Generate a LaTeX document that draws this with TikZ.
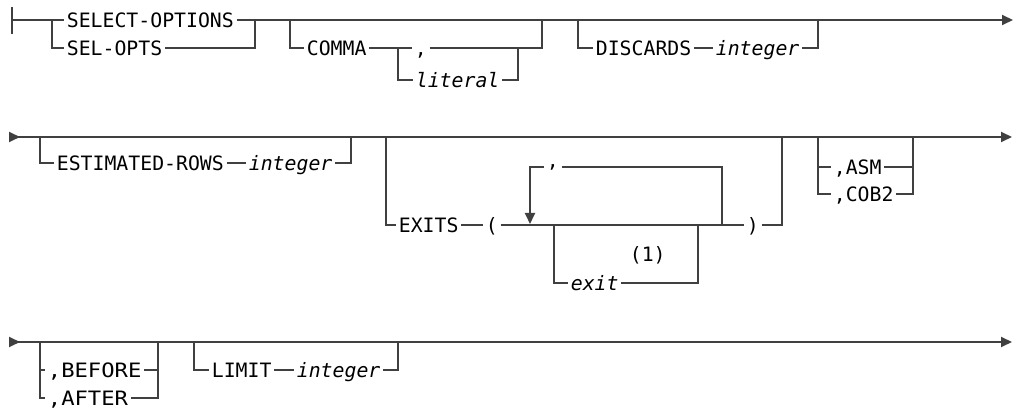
\documentclass[tikz,border=0pt]{standalone}
\usepackage{fontspec}
\setmonofont{DejaVu Sans Mono}
\newfontfamily\widemono[FakeStretch=1.12]{DejaVu Sans Mono}
\usetikzlibrary{arrows.meta}
\definecolor{rrLine}{RGB}{64,64,64}
\newcommand\rrfont{\ttfamily\fontsize{19.8}{24}\selectfont}

\begin{document}
\begin{tikzpicture}[x=1pt, y=-1pt, >={Triangle[length=11pt,width=10pt]},
  every path/.style={draw=rrLine, line width=1.8pt},
  kw/.style={anchor=west, inner xsep=2pt, inner ysep=0pt, text height=14.4pt, text depth=0pt, font=\rrfont},
  var/.style={kw, font=\rrfont\itshape},
  wide/.style={kw, font=\widemono\fontsize{19.8}{24}\selectfont}]
  \useasboundingbox[draw=none] (0,0) rectangle (1015,411);

  % row 1
  \coordinate (r1s) at (12,20);
  \coordinate (r1e) at (1013,20);
  \coordinate (a1) at (52,20);
  \coordinate (a2) at (255,20);
  \coordinate (b1) at (290,20);
  \coordinate (b2) at (542,20);
  \coordinate (c1) at (398,48);
  \coordinate (c2) at (518,48);
  \coordinate (d1) at (578,20);
  \coordinate (d2) at (818,20);
  \node[kw] (selopt) at (64,20) {SELECT-OPTIONS};
  \node[kw] (selopts) at (64,48) {SEL-OPTS};
  \node[kw] (comma) at (304,48) {COMMA};
  \node[kw] (sep) at (412,48) {,};
  \node[var] (lit) at (413,80) {literal};
  \node[kw] (disc) at (593,48) {DISCARDS};
  \node[var] (int1) at (713,48) {integer};
  \draw (12,7) -- (12,34);
  \draw (r1s) -- (selopt.west);
  \draw (selopt.east) -- (a2);
  \draw (a1) |- (selopts.west);
  \draw (selopts.east) -| (a2);
  \draw[->] (a2) -- (r1e);
  \draw (b1) |- (comma.west);
  \draw (comma.east) -- (sep.west);
  \draw (sep.east) -| (b2);
  \draw (c1) |- (lit.west);
  \draw (lit.east) -| (c2);
  \draw (d1) |- (disc.west);
  \draw (disc.east) -- (int1.west);
  \draw (int1.east) -| (d2);

  % row 2
  \coordinate (r2s) at (9,137);
  \coordinate (r2e) at (1012,137);
  \coordinate (e1) at (40,137);
  \coordinate (e2) at (351,137);
  \coordinate (x1) at (386,137);
  \coordinate (x2) at (782,137);
  \coordinate (i1) at (554,225);
  \coordinate (i2) at (698,225);
  \coordinate (ll) at (530,224);
  \coordinate (rl) at (722,225);
  \coordinate (s1) at (818,137);
  \coordinate (s2) at (913,137);
  \node[kw] (est) at (54,163) {ESTIMATED-ROWS};
  \node[var] (int2) at (246,163) {integer};
  \node[kw] (exits) at (396,225) {EXITS};
  \node[kw] (lp) at (483,225) {(};
  \node[kw, text height=1pt] (lc) at (544,167) {,};
  \node[var] (ex) at (568,283) {exit};
  \node[kw] (fn) at (627,254) {(1)};
  \node[kw] (rp) at (744,225) {)};
  \node[kw] (asm) at (831,167) {,ASM};
  \node[kw] (cob) at (831,194) {,COB2};
  \draw[{Triangle[reversed,length=11pt,width=10pt]}->] (r2s) -- (r2e);
  \draw (e1) |- (est.west);
  \draw (est.east) -- (int2.west);
  \draw (int2.east) -| (e2);
  \draw (x1) |- (exits.west);
  \draw (exits.east) -- (lp.west);
  \draw (lp.east) -- (rp.west);
  \draw (rp.east) -| (x2);
  \draw[->] (lc.west) -| (ll);
  \draw (lc.east) -| (rl);
  \draw (i1) |- (ex.west);
  \draw (ex.east) -| (i2);
  \draw (s1) |- (asm.west);
  \draw (s1) |- (cob.west);
  \draw (asm.east) -| (s2);
  \draw (cob.east) -| (s2);

  % row 3
  \coordinate (r3s) at (9,342);
  \coordinate (r3e) at (1012,342);
  \coordinate (f1) at (40,342);
  \coordinate (f2) at (158,342);
  \coordinate (g1) at (194,342);
  \coordinate (g2) at (398,342);
  \node[wide] (bef) at (45,370) {,BEFORE};
  \node[wide] (aft) at (45,398) {,AFTER};
  \node[kw] (lim) at (209,370) {LIMIT};
  \node[var] (int3) at (294,370) {integer};
  \draw[{Triangle[reversed,length=11pt,width=10pt]}->] (r3s) -- (r3e);
  \draw (f1) |- (bef.west);
  \draw (f1) |- (aft.west);
  \draw (bef.east) -| (f2);
  \draw (aft.east) -| (f2);
  \draw (g1) |- (lim.west);
  \draw (lim.east) -- (int3.west);
  \draw (int3.east) -| (g2);
\end{tikzpicture}
\end{document}
